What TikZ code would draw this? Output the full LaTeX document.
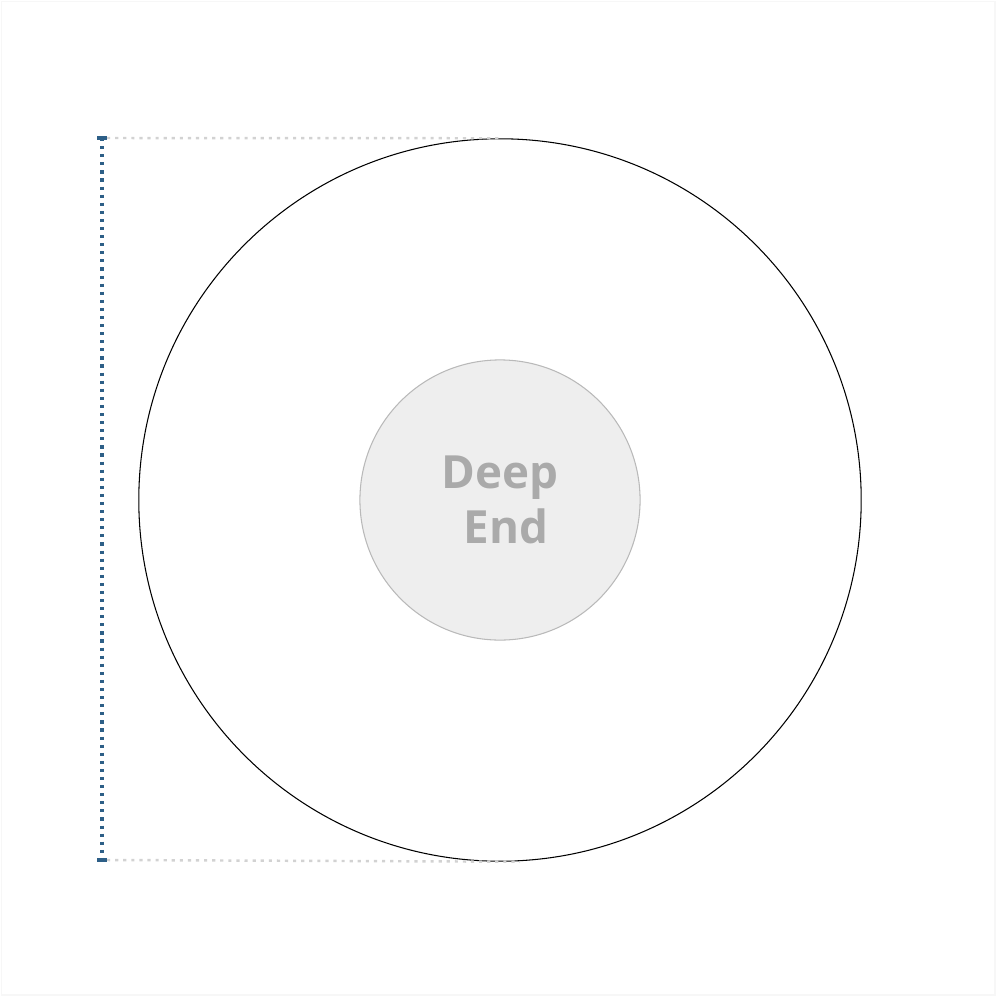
\documentclass[tikz,border=0pt]{standalone}
\usepackage{fontspec}
\setmainfont{Open Sans}
\usetikzlibrary{positioning,calc}
\definecolor{dimblue}{RGB}{45,95,135}
\definecolor{guidegray}{RGB}{210,210,210}
\definecolor{deepfill}{RGB}{238,238,238}
\definecolor{deepline}{RGB}{185,185,185}
\definecolor{deeptext}{RGB}{170,170,170}
\tikzset{
pool/.style={
  circle,
  draw=black,
  line width=0.3pt,
  minimum size=7.22cm,
  inner sep=0pt
},
deep/.style={
  circle,
  draw=deepline,
  fill=deepfill,
  line width=0.3pt,
  minimum size=2.8cm,
  inner sep=0pt,
  align=center,
  text=deeptext,
  font=\bfseries\fontsize{13}{15.6}\selectfont
},
guide/.style={
  guidegray,
  line width=0.7pt,
  dash pattern=on 0.9pt off 1.4pt
},
dimline/.style={
  dimblue,
  line width=0.9pt,
  dash pattern=on 0.9pt off 1.4pt
}
}

\begin{document}
\begin{tikzpicture}[x=0.01cm,y=-0.01cm]
  \useasboundingbox (0,0) rectangle (1000,1000);
  \draw[gray!6,line width=0.4pt] (1.5,1.5) rectangle (995,995);

  \node[pool] (pool) at (500,500) {};
  \node[deep] (deepend) at (500,500) {Deep\\ \hspace{0.26em}End};

  \coordinate (dimtop) at (102,138);
  \coordinate (dimbot) at (102,860);

  \draw[guide] (107,138) -- (pool.north);
  \draw[guide] (107,860) -- ($(pool.south)+(20,0)$);
  \draw[dimline] (dimtop) -- (dimbot);
  \draw[dimblue,line width=0.9pt] ($(dimtop)+(-5,0)$) -- ($(dimtop)+(5,0)$);
  \draw[dimblue,line width=0.9pt] ($(dimbot)+(-5,0)$) -- ($(dimbot)+(5,0)$);
\end{tikzpicture}
\end{document}
